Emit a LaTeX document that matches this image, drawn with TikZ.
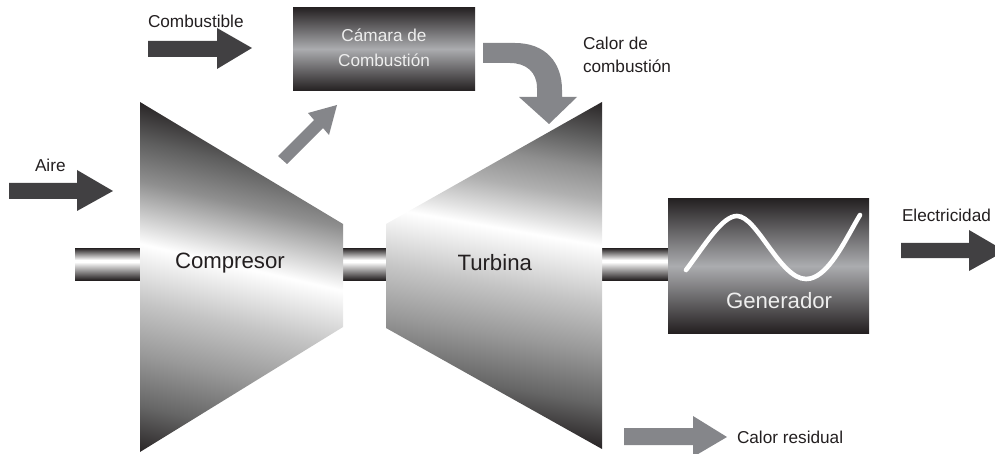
\documentclass[tikz,border=0pt]{standalone}
\usepackage{fontspec}
\setmainfont{Liberation Sans}
\definecolor{arrowdark}{HTML}{414042}
\definecolor{arrowgray}{HTML}{85868A}
\definecolor{inkdark}{HTML}{231F20}
\definecolor{paleink}{HTML}{EEEEEE}
\definecolor{sd}{HTML}{231F20}
\definecolor{sm}{HTML}{ABACAF}
\definecolor{gra}{gray}{0.40}
\definecolor{grb}{gray}{0.60}
\definecolor{grc}{gray}{0.77}
\definecolor{grd}{gray}{0.94}
\definecolor{gre}{gray}{0.89}
\definecolor{grf}{gray}{0.56}
\definecolor{grg}{gray}{0.37}
\definecolor{grh}{gray}{0.69}
\pgfdeclareverticalshading{compshade}{700bp}{color(0bp)=(sd);color(50bp)=(gra);color(100bp)=(grb);color(150bp)=(grc);color(192bp)=(grd);color(207bp)=(white);color(222bp)=(gre);color(268bp)=(grf);color(307bp)=(grg);color(349bp)=(sd)}
\pgfdeclareverticalshading{turbshade}{700bp}{color(0bp)=(sd);color(48bp)=(gra);color(98bp)=(grb);color(146bp)=(grc);color(188bp)=(grd);color(203bp)=(white);color(218bp)=(gre);color(248bp)=(grh);color(278bp)=(grf);color(308bp)=(grg);color(348bp)=(sd)}
\pgfdeclareverticalshading{shaftshade}{100bp}{color(0bp)=(sd);color(18bp)=(white);color(20bp)=(white);color(32bp)=(sd)}
\pgfdeclareverticalshading{boxshade}{200bp}{color(0bp)=(sd);color(42bp)=(sm);color(84bp)=(sd)}
\pgfdeclareverticalshading{genshade}{300bp}{color(0bp)=(sd);color(67bp)=(sm);color(135bp)=(sd)}
\tikzset{
  x=1pt,y=-1pt,
  darrow/.style={fill=arrowdark,draw=none},
  garrow/.style={fill=arrowgray,draw=none},
  label/.style={inner sep=0pt,outer sep=0pt,text=inkdark,font=\fontsize{17.2}{20}\selectfont},
  biglabel/.style={label,font=\fontsize{22.2}{26}\selectfont},
  shadeholder/.style={inner sep=0pt,outer sep=0pt,line width=0pt},
}
\begin{document}
\begin{tikzpicture}
\useasboundingbox (0,0) rectangle (995,454);
\begin{scope}
\clip (0,0) rectangle (995,454);
% shafts
\foreach \nm/\xa/\xb/\xc in {shafta/75/140/107.5,shaftb/343/386/364.5,shaftc/602/668/635}{
  \begin{scope}
    \clip (\xa,248) rectangle (\xb,280);
    \node[shadeholder] (\nm) at (\xc,264) {\pgfuseshading{shaftshade}};
  \end{scope}
}
% compressor
\begin{scope}
  \clip (140,102) -- (343,224) -- (343,327) -- (140,452) -- cycle;
  \node[shadeholder,rotate=-13] (compfill) at (234.2,299) {\pgfuseshading{compshade}};
\end{scope}
% turbine
\begin{scope}
  \clip (602,102) -- (386,224) -- (386,328) -- (602,449) -- cycle;
  \node[shadeholder,rotate=-10] (turbfill) at (489,255.6) {\pgfuseshading{turbshade}};
\end{scope}
% combustion chamber
\begin{scope}
  \clip (293,7) rectangle (475,91);
  \node[shadeholder] (chamberfill) at (384,49) {\pgfuseshading{boxshade}};
\end{scope}
% generator
\begin{scope}
  \clip (668,198) rectangle (869,333);
  \node[shadeholder] (genfill) at (768,265.5) {\pgfuseshading{genshade}};
\end{scope}
\draw[white,line width=4.6pt,line cap=round] (686,270) .. controls (705,245) and (722,216) .. (737,216) .. controls (757,216) and (780,279) .. (806,279) .. controls (828,279) and (845,240) .. (860,215);
% arrows
\fill[darrow] (148,41) -- (217,41) -- (217,28) -- (252,48) -- (217,69) -- (217,57) -- (148,57) -- cycle;
\fill[darrow] (9,183) -- (77,183) -- (77,170) -- (113,191) -- (77,211) -- (77,199) -- (9,199) -- cycle;
\fill[darrow] (901,243) -- (969,243) -- (969,230) -- (1005,251) -- (969,271) -- (969,258) -- (901,258) -- cycle;
\fill[garrow] (624,428) -- (693,428) -- (693,416) -- (727,437) -- (693,457) -- (693,445) -- (624,445) -- cycle;
\fill[garrow] (278,156) -- (314,120) -- (308,113) -- (337,105) -- (329,135) -- (323,128) -- (287,164) -- cycle;
\fill[garrow] (483,43) -- (515,43) .. controls (545,43) and (562,62) .. (562,90) -- (562,97) -- (577,97) -- (549,124) -- (519,97) -- (537,97) -- (537,88) .. controls (537,72) and (526,63) .. (510,63) -- (483,63) -- cycle;
% labels
\node[label,anchor=base west] (combustible) at (148,28) {Combustible};
\node[label,anchor=base west] (aire) at (35,172) {Aire};
\node[label,anchor=base,text=paleink] (camara) at (384,42) {Cámara de};
\node[label,anchor=base,text=paleink] (combustion) at (384,67) {Combustión};
\node[label,anchor=base west] (calor) at (583,50) {Calor de};
\node[label,anchor=base west] (calorb) at (583,73) {combustión};
\node[label,anchor=base west] (elec) at (902,222) {Electricidad};
\node[label,anchor=base west] (residual) at (737,443) {Calor residual};
\node[biglabel,anchor=base west] (compresor) at (175,269) {Compresor};
\node[biglabel,anchor=base west] (turbina) at (457.5,270) {Turbina};
\node[biglabel,anchor=base west,text=paleink] (generador) at (726,308) {Generador};
\end{scope}
\end{tikzpicture}
\end{document}
